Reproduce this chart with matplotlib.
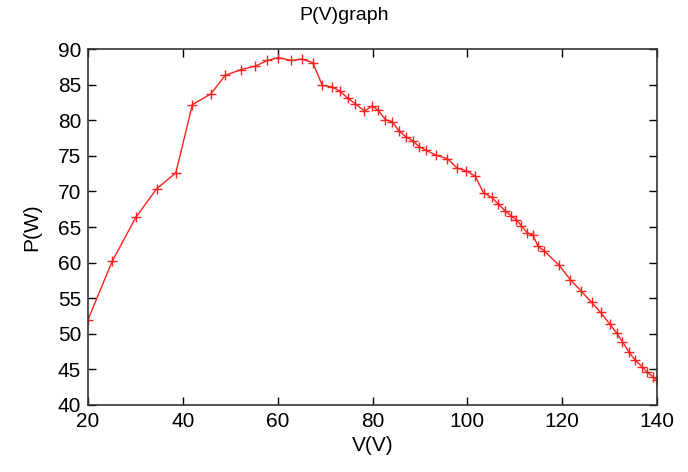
import matplotlib
matplotlib.use("Agg")
import matplotlib.pyplot as plt

plt.rcParams['font.family'] = ['Liberation Sans', 'DejaVu Sans']

# voltage (V) and power (W)
volts = [20.0, 25.1, 30.1, 34.5, 38.5, 42.0, 45.9, 48.9, 52.2, 55.2, 57.8, 60.1,
         62.9, 65.1, 67.4, 69.4, 71.4, 73.1, 74.8, 76.4, 78.3, 79.9, 81.2, 82.7,
         84.1, 85.6, 87.0, 88.5, 89.8, 91.2, 93.4, 95.8, 97.8, 99.8, 101.7, 103.4,
         105.1, 106.4, 107.9, 109.2, 110.3, 111.4, 112.6, 113.8, 114.9, 116.1,
         119.4, 121.7, 124.0, 126.2, 128.1, 130.0, 131.5, 132.7, 134.0, 135.4,
         136.8, 137.9, 139.1, 140.0]
power = [52.0, 60.2, 66.4, 70.4, 72.6, 82.2, 83.7, 86.3, 87.1, 87.6, 88.4, 88.8,
         88.4, 88.6, 88.1, 84.9, 84.7, 84.1, 83.1, 82.3, 81.3, 82.0, 81.4, 80.1,
         79.8, 78.5, 77.7, 77.1, 76.3, 75.8, 75.1, 74.6, 73.3, 72.9, 72.1, 69.8,
         69.2, 68.3, 67.3, 66.6, 66.0, 65.2, 64.2, 63.9, 62.3, 61.7,
         59.6, 57.6, 56.0, 54.4, 53.0, 51.4, 50.1, 48.9, 47.5, 46.3,
         45.4, 44.6, 44.0, 43.5]

x_ticks = [20, 40, 60, 80, 100, 120, 140]
y_ticks = [40, 45, 50, 55, 60, 65, 70, 75, 80, 85, 90]

fig = plt.figure(figsize=(6.88, 4.72), dpi=100)
ax = fig.add_axes([0.128, 0.142, 0.827, 0.754])

ax.plot(volts, power, color='#ff2020', linewidth=1, marker='+',
        markersize=7, markeredgewidth=1)

ax.set_xlim(20, 140)
ax.set_ylim(40, 90)
ax.set_xticks(x_ticks)
ax.set_yticks(y_ticks)
ax.tick_params(direction='in', top=True, right=True, length=6, width=1,
               labelsize=15, pad=5)
for s in ax.spines.values():
    s.set_linewidth(1.2)
    s.set_color('#333333')

ax.set_xlabel("V(V)", fontsize=15, labelpad=4)
ax.set_ylabel("P(W)", fontsize=15, labelpad=12)
fig.suptitle("P(V)graph", fontsize=14, y=0.985)

fig.savefig("out.png", dpi=100)
